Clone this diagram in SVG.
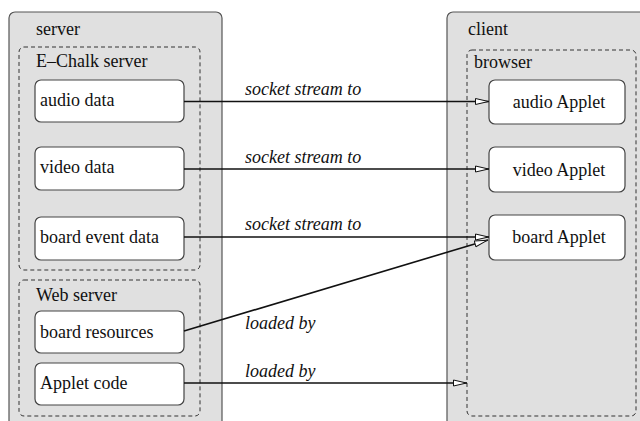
<svg xmlns="http://www.w3.org/2000/svg" width="640" height="421" viewBox="0 0 640 421">
<defs>
<style>
.outer{fill:#e0e0e0;stroke:#555;stroke-width:1.2}
.group{fill:none;stroke:#333;stroke-width:1;stroke-dasharray:4 3}
.node{fill:#fff;stroke:#444;stroke-width:1.2}
.conn{fill:none;stroke:#111;stroke-width:1.6}
.t{font-family:'Liberation Serif',serif;font-size:18px;fill:#111}
.i{font-family:'Liberation Serif',serif;font-size:18px;font-style:italic;fill:#111}
</style>
<marker id="arr" viewBox="0 0 14 8" refX="14" refY="4" markerWidth="14" markerHeight="8" markerUnits="userSpaceOnUse" orient="auto">
<path d="M0.5,1 L13.5,4 L0.5,7 Z" fill="#fff" stroke="#111" stroke-width="1"/>
</marker>
</defs>
<rect width="640" height="421" fill="#fff"/>
<g id="server">
<rect class="outer" x="9" y="12" width="213" height="430" rx="6"/>
<text class="t" x="36" y="35">server</text>
</g>
<g id="client">
<rect class="outer" x="447" y="12" width="210" height="430" rx="6"/>
<text class="t" x="468" y="35">client</text>
</g>
<g id="echalk">
<rect class="group" x="19" y="47" width="181" height="223" rx="5"/>
<text class="t" x="36" y="67">E–Chalk server</text>
</g>
<g id="webserver">
<rect class="group" x="19" y="280" width="181" height="136" rx="5"/>
<text class="t" x="36" y="301">Web server</text>
</g>
<g id="browser">
<rect class="group" x="467" y="50" width="169" height="366" rx="5"/>
<text class="t" x="474" y="68">browser</text>
</g>
<g id="audio-data">
<rect class="node" x="35" y="80" width="149" height="42" rx="6"/>
<text class="t" x="40" y="106">audio data</text>
</g>
<g id="video-data">
<rect class="node" x="35" y="147" width="149" height="43" rx="6"/>
<text class="t" x="40" y="173">video data</text>
</g>
<g id="board-event-data">
<rect class="node" x="35" y="217" width="149" height="43" rx="6"/>
<text class="t" x="40" y="243">board event data</text>
</g>
<g id="board-resources">
<rect class="node" x="35" y="311" width="149" height="42" rx="6"/>
<text class="t" x="40" y="338">board resources</text>
</g>
<g id="applet-code">
<rect class="node" x="35" y="363" width="149" height="42" rx="6"/>
<text class="t" x="40" y="389">Applet code</text>
</g>
<g id="audio-applet">
<rect class="node" x="489" y="80" width="136" height="44" rx="6"/>
<text class="t" x="559" y="108" text-anchor="middle">audio Applet</text>
</g>
<g id="video-applet">
<rect class="node" x="489" y="147" width="136" height="45" rx="6"/>
<text class="t" x="559" y="176" text-anchor="middle">video Applet</text>
</g>
<g id="board-applet">
<rect class="node" x="489" y="215" width="136" height="45" rx="6"/>
<text class="t" x="559" y="243" text-anchor="middle">board Applet</text>
</g>
<g id="connectors">
<line class="conn" x1="184" y1="101.5" x2="489" y2="101.5" marker-end="url(#arr)"/>
<line class="conn" x1="184" y1="169" x2="489" y2="169" marker-end="url(#arr)"/>
<line class="conn" x1="184" y1="237" x2="489" y2="237" marker-end="url(#arr)"/>
<line class="conn" x1="184" y1="331" x2="488" y2="240" marker-end="url(#arr)"/>
<line class="conn" x1="184" y1="383" x2="467" y2="383" marker-end="url(#arr)"/>
<text class="i" x="245" y="95">socket stream to</text>
<text class="i" x="245" y="163">socket stream to</text>
<text class="i" x="245" y="230">socket stream to</text>
<text class="i" x="245" y="329">loaded by</text>
<text class="i" x="245" y="377">loaded by</text>
</g>
</svg>
